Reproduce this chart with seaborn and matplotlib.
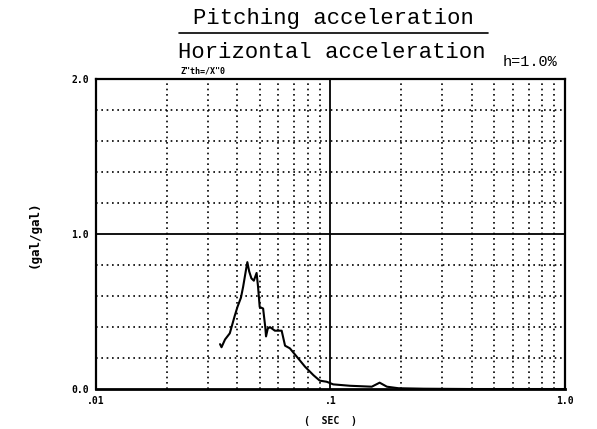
import matplotlib
matplotlib.use("Agg")
import matplotlib.pyplot as plt
import seaborn as sns
import pandas as pd

# response ratio (pitching / horizontal acceleration) vs period, h = 1.0 %
period = [0.0338, 0.0343, 0.0355, 0.0372, 0.0390, 0.0401, 0.0415, 0.0424,
          0.0435, 0.0442, 0.0450, 0.0460, 0.0471, 0.0484, 0.0491, 0.0499,
          0.0516, 0.0527, 0.0531, 0.0540, 0.0552, 0.0579, 0.0619, 0.0640,
          0.0671, 0.0728, 0.0779, 0.0845, 0.0900, 0.0963, 0.1027, 0.121,
          0.150, 0.162, 0.174, 0.195, 0.25, 0.40, 1.0]
ratio = [0.29, 0.27, 0.32, 0.36, 0.47, 0.53, 0.59, 0.66,
         0.76, 0.82, 0.76, 0.715, 0.70, 0.75, 0.66, 0.53,
         0.52, 0.40, 0.34, 0.39, 0.40, 0.377, 0.377, 0.28,
         0.263, 0.198, 0.144, 0.09, 0.054, 0.047, 0.03, 0.021,
         0.015, 0.041, 0.015, 0.005, 0.002, 0.0, 0.0]

y_ticks = [0.0, 1.0, 2.0]
y_tick_labels = ["0.0", "1.0", "2.0"]
x_ticks = [0.01, 0.1, 1.0]
x_tick_labels = [".01", ".1", "1.0"]

df = pd.DataFrame({"period": period, "ratio": ratio})

sns.set_style("white")
plt.rcParams["font.family"] = ["DejaVu Sans Mono", "DejaVu Sans"]
plt.rcParams["text.color"] = "black"
plt.rcParams["axes.labelcolor"] = "black"
plt.rcParams["xtick.color"] = "black"
plt.rcParams["ytick.color"] = "black"

fig = plt.figure(figsize=(5.97, 4.29), dpi=100)
ax = fig.add_axes([0.1608, 0.0932, 0.7856, 0.7215])

ax.set_xscale("log")
ax.set_xlim(0.01, 1.0)
ax.set_ylim(0.0, 2.0)

dots = (0, (1, 2.2))
for v in [0.2, 0.4, 0.6, 0.8, 1.2, 1.4, 1.6, 1.8]:
    ax.axhline(v, color="black", lw=1.2, ls=dots, zorder=1)
ax.axhline(1.0, color="black", lw=1.3, zorder=1)
for d in [0.01, 0.1]:
    for m in range(2, 10):
        ax.axvline(d * m, color="black", lw=1.2, ls=dots, zorder=1)
ax.axvline(0.1, color="black", lw=1.3, zorder=1)

sns.lineplot(data=df, x="period", y="ratio", ax=ax, color="black",
             lw=1.5, sort=False, zorder=3)

for s in ax.spines.values():
    s.set_color("black")
    s.set_linewidth(1.6)
ax.spines["bottom"].set_linewidth(2.0)

ax.set_xticks(x_ticks)
ax.set_xticklabels(x_tick_labels, fontsize=7, fontweight="bold")
ax.set_yticks(y_ticks)
ax.set_yticklabels(y_tick_labels, fontsize=7, fontweight="bold")
ax.minorticks_off()
ax.tick_params(length=0, pad=5)
ax.set_xlabel("(  SEC  )", fontsize=7, fontweight="bold", labelpad=7)
ax.set_ylabel("(gal/gal)", fontsize=9, fontweight="bold", labelpad=22)

mono = ["Liberation Mono", "DejaVu Sans Mono"]
fig.text(0.558, 0.957, "Pitching acceleration", ha="center", va="center",
         fontsize=16, family=mono)
fig.add_artist(plt.Line2D([0.300, 0.818], [0.922, 0.922], color="black", lw=1.2))
fig.text(0.556, 0.878, "Horizontal acceleration", ha="center", va="center",
         fontsize=16, family=mono)
fig.text(0.888, 0.855, "h=1.0%", ha="center", va="center", fontsize=11,
         family=mono)
fig.text(0.340, 0.835, "Z\"th=/X\"0", ha="center", va="center", fontsize=6,
         fontweight="bold")

fig.savefig("out.png", dpi=100)
